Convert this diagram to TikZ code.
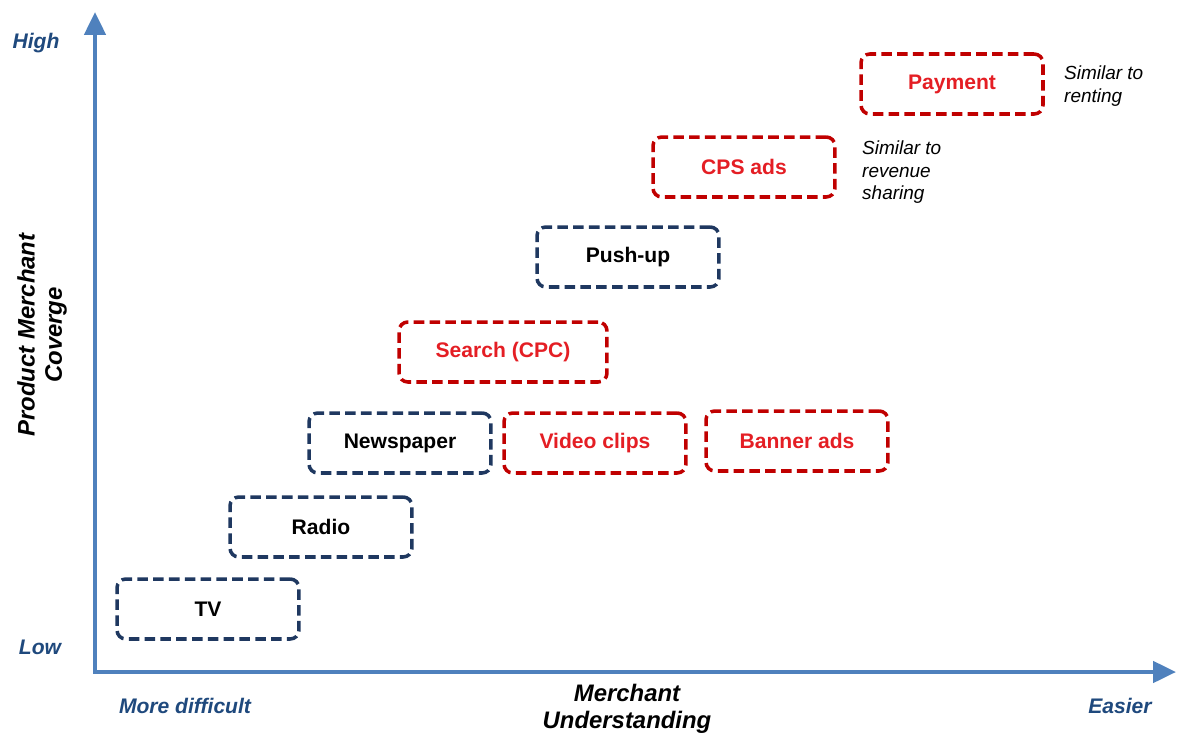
\documentclass[tikz,border=0pt]{standalone}
\usepackage{fontspec}
\setmainfont{Liberation Sans}
\usetikzlibrary{arrows.meta, positioning}
\definecolor{axisblue}{RGB}{79,129,189}
\definecolor{navy}{RGB}{31,56,96}
\definecolor{boxred}{RGB}{192,0,0}
\definecolor{txtred}{RGB}{228,30,36}
\definecolor{lblblue}{RGB}{31,73,125}

\begin{document}
\begin{tikzpicture}[x=0.02cm, y=-0.02cm,
  media/.style={draw=navy, line width=2pt, dash pattern=on 6pt off 3pt,
    rounded corners=5pt, minimum width=3.64cm, minimum height=1.2cm,
    font=\bfseries\fontsize{12}{14}\selectfont, text=black},
  online/.style={media, draw=boxred, text=txtred},
  axis/.style={draw=axisblue, line width=2.3pt, {Triangle[length=13pt,width=12pt]}-{Triangle[length=13pt,width=12pt]}},
  endlbl/.style={text=lblblue, font=\bfseries\itshape\fontsize{12}{14}\selectfont},
  axlbl/.style={align=center, font=\bfseries\itshape\fontsize{13.6}{15.5}\selectfont},
  note/.style={align=left, anchor=north west, font=\itshape\fontsize{10.8}{12.8}\selectfont}]
\useasboundingbox (0,0) rectangle (1190,737);

\coordinate (ytop) at (95,12);
\coordinate (o) at (95,672);
\coordinate (xend) at (1176,672);
\draw[axis] (ytop) -- (o) -- (xend);

\node[media] (tv) at (208,609) {TV};
\node[media] (radio) at (321,527) {Radio};
\node[media] (news) at (400,443) {Newspaper};
\node[online] (video) at (595,443) {Video clips};
\node[online] (banner) at (797,441) {Banner ads};
\node[online, minimum width=4.16cm] (search) at (503,352) {Search (CPC)};
\node[media] (push) at (628,257) {Push-up};
\node[online] (cps) at (744,167) {CPS ads};
\node[online] (pay) at (952,84) {Payment};

\node[note] (rent) at (1058,60) {Similar to\\renting};
\node[note] (share) at (856,135) {Similar to\\revenue\\sharing};

\node[endlbl] (high) at (36,43) {High};
\node[endlbl] (low) at (40,647) {Low};
\node[endlbl] (hard) at (185,706) {More difficult};
\node[endlbl] (easy) at (1120,706) {Easier};
\node[axlbl] (xlbl) at (627,709) {Merchant\\Understanding};
\node[axlbl, rotate=90] (ylbl) at (42,335) {Product Merchant\\Coverge};
\end{tikzpicture}
\end{document}
